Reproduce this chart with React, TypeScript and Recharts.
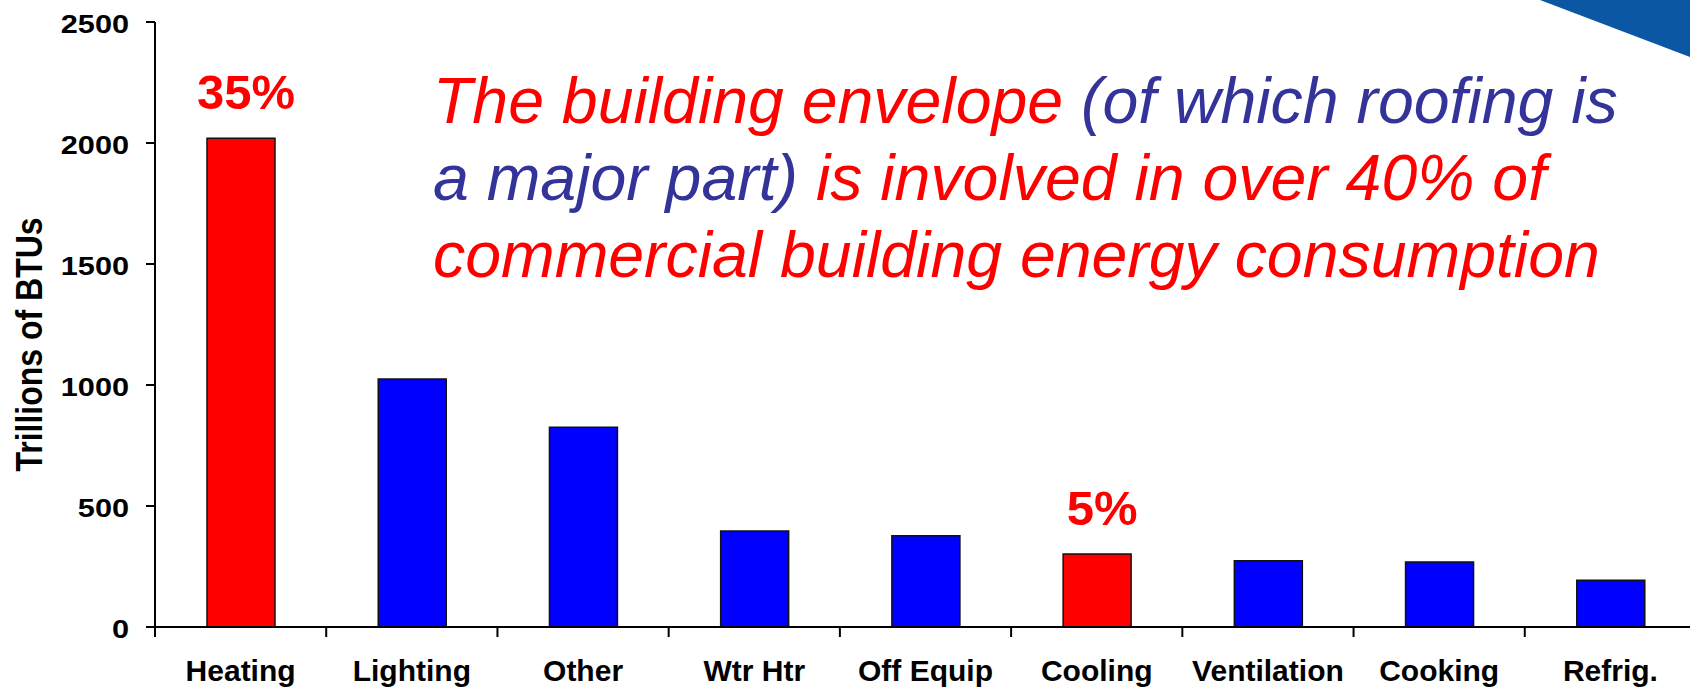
import { BarChart, Bar, XAxis, YAxis, Cell, LabelList } from 'recharts';

// end uses of energy in commercial buildings
const categories = ['Heating', 'Lighting', 'Other', 'Wtr Htr', 'Off Equip', 'Cooling', 'Ventilation', 'Cooking', 'Refrig.'];
const trillionBtus = [2020, 1025, 825, 397, 377, 302, 274, 269, 193];
// share tied to the building envelope (only shown on the two envelope uses)
const envelopeShare = ['35%', '', '', '', '', '5%', '', '', ''];
const yTicks = [0, 500, 1000, 1500, 2000, 2500];

const data = categories.map((name, i) => ({
  name,
  value: trillionBtus[i],
  share: envelopeShare[i],
}));

const FONT = '"Liberation Sans", Arial, sans-serif';
const PLOT_LEFT = 155;
const PLOT_TOP = 22;
const PLOT_BOTTOM = 627;
const CHART_W = 1700;
const BAND = (CHART_W - 4 - PLOT_LEFT) / categories.length;

const RED = '#FF0000';
const BLUE = '#0000FF';
const NAVY = '#333399';

function YTick({ x, y, payload }: any) {
  return (
    <g transform={`translate(${x + 1},${y}) scale(1.18,1)`}>
      <text x={0} y={0} dy={11} textAnchor="end" fontSize={26} fontWeight="bold" fill="#000" fontFamily={FONT}>
        {payload.value}
      </text>
    </g>
  );
}

function XTick({ x, payload }: any) {
  const edge = x - BAND / 2;
  return (
    <g>
      <line x1={edge} x2={edge} y1={PLOT_BOTTOM} y2={PLOT_BOTTOM + 10} stroke="#000" strokeWidth={2} />
      <text x={x} y={681} textAnchor="middle" fontSize={30} fontWeight="bold" fill="#000" fontFamily={FONT}>
        {payload.value}
      </text>
    </g>
  );
}

const renderShare = ({ x, y, width, value }: any) => {
  if (!value) return null;
  return (
    <text x={x + width / 2 + 5} y={y - 29} textAnchor="middle" fontSize={49} fontWeight="bold" fill={RED} fontFamily={FONT}>
      {value}
    </text>
  );
};

export default function App() {
  return (
    <div style={{ position: 'absolute', left: 0, top: 0, width: 1690, height: 688, overflow: 'hidden', background: '#fff' }}>
      <BarChart
        width={CHART_W}
        height={688}
        data={data}
        margin={{ top: PLOT_TOP, right: 4, bottom: 0, left: 55 }}
      >
        <YAxis
          width={100}
          domain={[0, 2500]}
          ticks={yTicks}
          interval={0}
          tickSize={9}
          tickMargin={18}
          axisLine={{ stroke: '#000', strokeWidth: 2 }}
          tickLine={{ stroke: '#000', strokeWidth: 2 }}
          tick={<YTick />}
        />
        <XAxis
          dataKey="name"
          height={61}
          interval={0}
          axisLine={{ stroke: '#000', strokeWidth: 2 }}
          tickLine={false}
          tick={<XTick />}
        />
        <Bar dataKey="value" barSize={68} stroke="#111" strokeWidth={1.5} isAnimationActive={false}>
          {data.map((d, i) => (
            <Cell key={`cell-${i}`} fill={d.share ? RED : BLUE} />
          ))}
          <LabelList dataKey="share" content={renderShare} />
        </Bar>
      </BarChart>

      <svg width={1690} height={688} style={{ position: 'absolute', left: 0, top: 0, pointerEvents: 'none' }}>
        {/* corner swoosh of the slide template */}
        <polygon points="1540,0 1690,0 1690,57" fill="#0B57A4" />
        <text
          transform="translate(42,344.5) scale(1.18,1) rotate(-90)"
          textAnchor="middle"
          fontSize={32}
          fontWeight="bold"
          fill="#000"
          fontFamily={FONT}
        >
          Trillions of BTUs
        </text>
        <g fontFamily={FONT} fontStyle="italic" fontSize={64.4}>
          <text x={433} y={123}>
            <tspan fill={RED}>The building envelope</tspan>
            <tspan fill={NAVY}> (of which roofing is</tspan>
          </text>
          <text x={433} y={200}>
            <tspan fill={NAVY}>a major part)</tspan>
            <tspan fill={RED}> is involved in over 40% of</tspan>
          </text>
          <text x={433} y={277} fill={RED}>
            commercial building energy consumption
          </text>
        </g>
      </svg>
    </div>
  );
}
